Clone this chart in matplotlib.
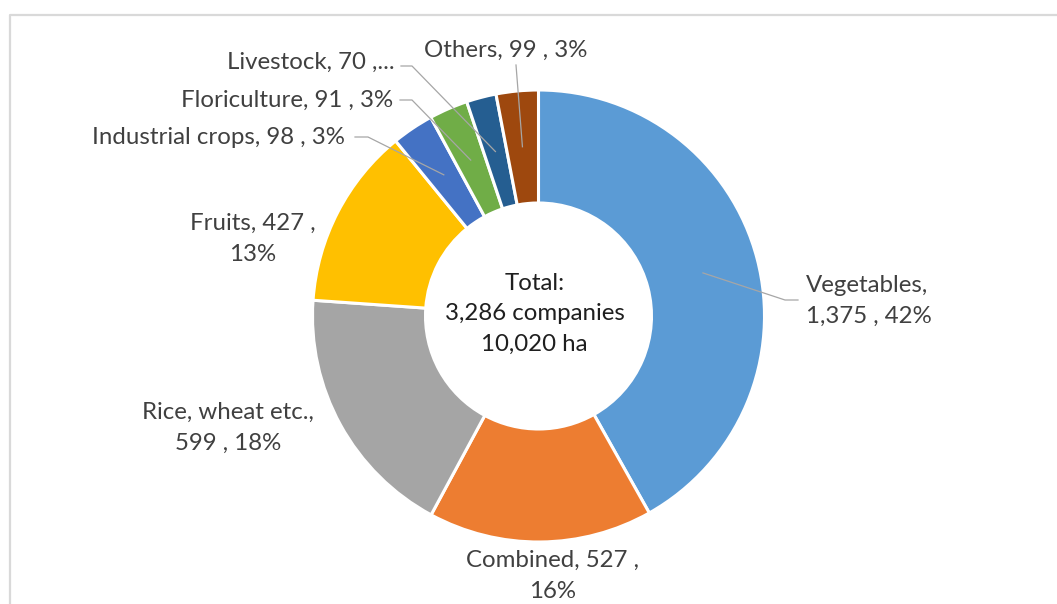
import matplotlib.pyplot as plt
import numpy as np

# companies by farming type
categories = ['Vegetables', 'Combined', 'Rice, wheat etc.', 'Fruits',
              'Industrial crops', 'Floriculture', 'Livestock', 'Others']
companies = [1375, 527, 599, 427, 98, 91, 70, 99]
colors = ['#5B9BD5', '#ED7D31', '#A5A5A5', '#FFC000',
          '#4472C4', '#70AD47', '#255E91', '#9E480E']
labels = ['Vegetables,\n1,375 , 42%', 'Combined, 527 ,\n16%',
          'Rice, wheat etc.,\n599 , 18%', 'Fruits, 427 ,\n13%',
          'Industrial crops, 98 , 3%', 'Floriculture, 91 , 3%',
          'Livestock, 70 ,...', 'Others, 99 , 3%']
center_text = 'Total:\n3,286 companies\n10,020 ha'

plt.rcParams['font.family'] = ['Lato', 'DejaVu Sans']

W, H = 1057, 604
fig = plt.figure(figsize=(W / 100, H / 100), dpi=100)
ax = fig.add_axes([0, 0, 1, 1])

cx, cy = 538.5, H - 316
R = 226
wedges, _ = ax.pie(companies, colors=colors, startangle=90, counterclock=False,
                   radius=R, center=(cx, cy),
                   wedgeprops=dict(width=R - 113, edgecolor='white', linewidth=2.2))
ax.set_xlim(0, W)
ax.set_ylim(0, H)
ax.set_aspect('equal')
ax.axis('off')

# chart area border (cut off at right and bottom)
ax.plot([10, 10, W + 5], [-5, H - 15, H - 15], color='#d9d9d9', lw=1.6)

# label positions (x, y from top), alignment, and leader path before the wedge
label_pos = [(806, 301, 'left'), (553, 576, 'center'), (228, 428, 'center'),
             (253, 239, 'center'), (345, 137, 'right'), (393, 100, 'right'),
             (395, 62, 'right'), (506, 50, 'center')]
leaders = {0: [(798, 300), (785, 300)],
           4: [(355, 137), (368, 137)],
           5: [(400, 100), (412, 100)],
           6: [(401, 66), (412, 66)],
           7: [(516, 65)]}

for i, (lab, (x, y, ha)) in enumerate(zip(labels, label_pos)):
    ax.text(x, H - y, lab, ha=ha, va='center', fontsize=17.3,
            color='#404040', linespacing=1.55)
    if i in leaders:
        w = wedges[i]
        mid = np.deg2rad((w.theta1 + w.theta2) / 2)
        pts = [(px, H - py) for px, py in leaders[i]]
        pts.append((cx + 170 * np.cos(mid), cy + 170 * np.sin(mid)))
        xs, ys = zip(*pts)
        ax.plot(xs, ys, color='#a6a6a6', lw=0.9)

ax.text(cx - 4, H - 314, center_text, ha='center', va='center', fontsize=17.3,
        color='#1f1f1f', linespacing=1.55)

fig.savefig('out.png', dpi=100)
